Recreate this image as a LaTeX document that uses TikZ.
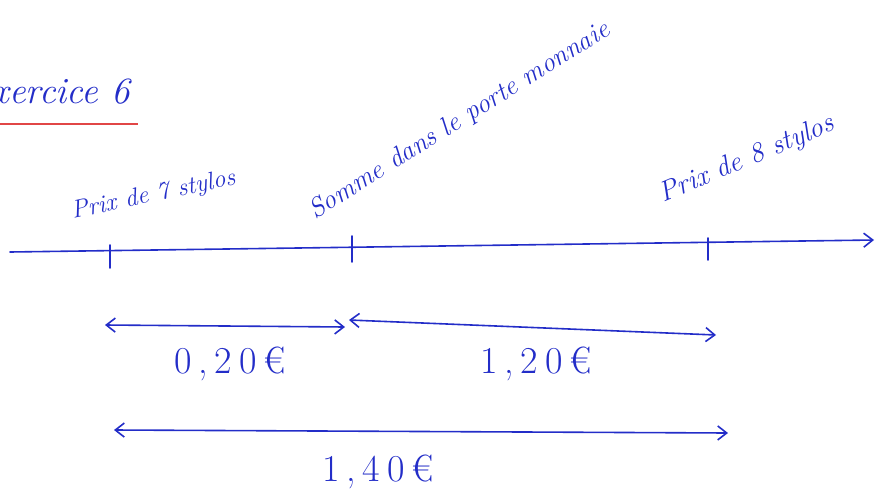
\documentclass[tikz,border=0pt]{standalone}
\usepackage{fontspec}
\usetikzlibrary{arrows.meta}
\definecolor{ink}{RGB}{35,45,200}
\definecolor{redline}{RGB}{225,70,70}
\newfontfamily\spacedfont[LetterSpace=18]{Latin Modern Roman}
\tikzset{
  pen/.style={draw=ink, line width=1.6pt, line cap=round},
  dimarrow/.style={pen, {Straight Barb[length=9pt,width=14pt]}-{Straight Barb[length=9pt,width=14pt]}},
  lbl/.style={text=ink, inner sep=0pt},
  val/.style={text=ink, font=\spacedfont\fontsize{38}{40}\selectfont, inner sep=0pt},
  tick/.style={pen}
}
\begin{document}
\begin{tikzpicture}[x=1pt,y=-1pt]
\useasboundingbox (0,0) rectangle (876,493);
% title
\node[text=ink, font=\fontsize{37}{40}\selectfont\itshape, anchor=base east, inner sep=0pt] (title) at (130,103) {Exercice 6};
\coordinate (ul1) at (0,124);
\coordinate (ul2) at (138,124);
\draw[draw=redline, line width=1.8pt] (ul1) -- (ul2);
% number line
\coordinate (lstart) at (10,252);
\coordinate (lend) at (874,240);
\draw[pen, -{Straight Barb[length=9pt,width=14pt]}] (lstart) -- (lend);
% ticks
\coordinate (t1a) at (110,245); \coordinate (t1b) at (110,268);
\coordinate (t2a) at (352,236); \coordinate (t2b) at (352,262);
\coordinate (t3a) at (708,238); \coordinate (t3b) at (708,260);
\draw[tick] (t1a) -- (t1b);
\draw[tick] (t2a) -- (t2b);
\draw[tick] (t3a) -- (t3b);
% labels
\node[lbl, font=\fontsize{25}{27}\selectfont\itshape, rotate=12, anchor=south west] (p7) at (74,224) {Prix de 7 stylos};
\node[lbl, font=\fontsize{27}{29}\selectfont\itshape, rotate=32, anchor=south west] (sm) at (318,224) {Somme dans le porte monnaie};
\node[lbl, font=\fontsize{28}{30}\selectfont\itshape, rotate=23, anchor=south west] (p8) at (666,208) {Prix de 8 stylos};
% dimension arrows
\coordinate (a1) at (105,325); \coordinate (a2) at (345,327);
\coordinate (b1) at (349,320); \coordinate (b2) at (716,335);
\coordinate (c1) at (114,430); \coordinate (c2) at (728,433);
\draw[dimarrow] (a1) -- (a2);
\draw[dimarrow] (b1) -- (b2);
\draw[dimarrow] (c1) -- (c2);
% values
\node[val] (v1) at (230,364) {0,20€};
\node[val] (v2) at (536,364) {1,20€};
\node[val] (v3) at (378,472) {1,40€};
\end{tikzpicture}
\end{document}
